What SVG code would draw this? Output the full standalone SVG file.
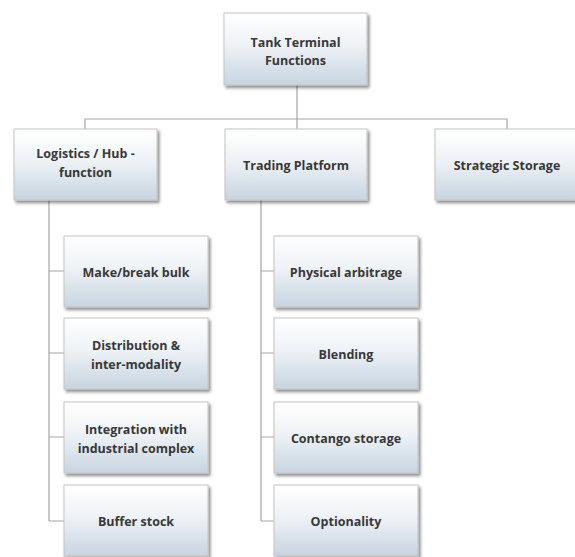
<svg xmlns="http://www.w3.org/2000/svg" width="575" height="557" viewBox="0 0 575 557">
<defs>
<linearGradient id="g" x1="0" y1="0" x2="0" y2="1">
<stop offset="0" stop-color="#ffffff"/>
<stop offset="0.45" stop-color="#eef2f6"/>
<stop offset="1" stop-color="#c7d4e0"/>
</linearGradient>
<filter id="sh" x="-10%" y="-10%" width="125%" height="130%">
<feDropShadow dx="2" dy="2.5" stdDeviation="1.5" flood-color="#000" flood-opacity="0.45"/>
</filter>
</defs>
<style>
.box{fill:url(#g);stroke:#c4c4c4;stroke-width:1;filter:url(#sh)}
.t{font-family:"Open Sans","Liberation Sans",sans-serif;font-weight:bold;font-size:12.5px;fill:#383838;text-anchor:middle}
.c{fill:none;stroke:#a6a6a6;stroke-width:1.2}
</style>
<rect width="575" height="557" fill="#fff"/>
<g id="connectors">
<path class="c" d="M297,85V119M85,129V119H507V129M297,119V129"/>
<path class="c" d="M49,200V521M49,271H64M49,353H64M49,437H64M49,521H64"/>
<path class="c" d="M261,200V521M261,271H274M261,353H274M261,437H274M261,521H274"/>
</g>
<g id="root"><rect class="box" x="224" y="13" width="143" height="72"/><text class="t" x="295.5" y="46.5">Tank Terminal</text><text class="t" x="295.5" y="65">Functions</text></g>
<g id="logistics"><rect class="box" x="14" y="129" width="143" height="71"/><text class="t" x="85.5" y="157.5">Logistics / Hub -</text><text class="t" x="85.5" y="177">function</text></g>
<g id="trading"><rect class="box" x="225" y="129" width="142" height="71"/><text class="t" x="296" y="169.5">Trading Platform</text></g>
<g id="strategic"><rect class="box" x="435" y="129" width="143" height="71"/><text class="t" x="507" y="169.5">Strategic Storage</text></g>
<g id="makebreak"><rect class="box" x="64" y="236" width="144" height="71"/><text class="t" x="136" y="276.5">Make/break bulk</text></g>
<g id="distribution"><rect class="box" x="64" y="318" width="144" height="71"/><text class="t" x="136" y="349.5">Distribution &amp;</text><text class="t" x="136" y="369">inter-modality</text></g>
<g id="integration"><rect class="box" x="64" y="402" width="144" height="71"/><text class="t" x="136" y="433.5">Integration with</text><text class="t" x="136" y="453">industrial complex</text></g>
<g id="buffer"><rect class="box" x="64" y="485" width="144" height="71"/><text class="t" x="136" y="526">Buffer stock</text></g>
<g id="physical"><rect class="box" x="274" y="236" width="144" height="71"/><text class="t" x="346" y="276.5">Physical arbitrage</text></g>
<g id="blending"><rect class="box" x="274" y="318" width="144" height="71"/><text class="t" x="346" y="358.5">Blending</text></g>
<g id="contango"><rect class="box" x="274" y="402" width="144" height="71"/><text class="t" x="346" y="442.5">Contango storage</text></g>
<g id="optionality"><rect class="box" x="274" y="485" width="144" height="71"/><text class="t" x="346" y="526">Optionality</text></g>
</svg>
